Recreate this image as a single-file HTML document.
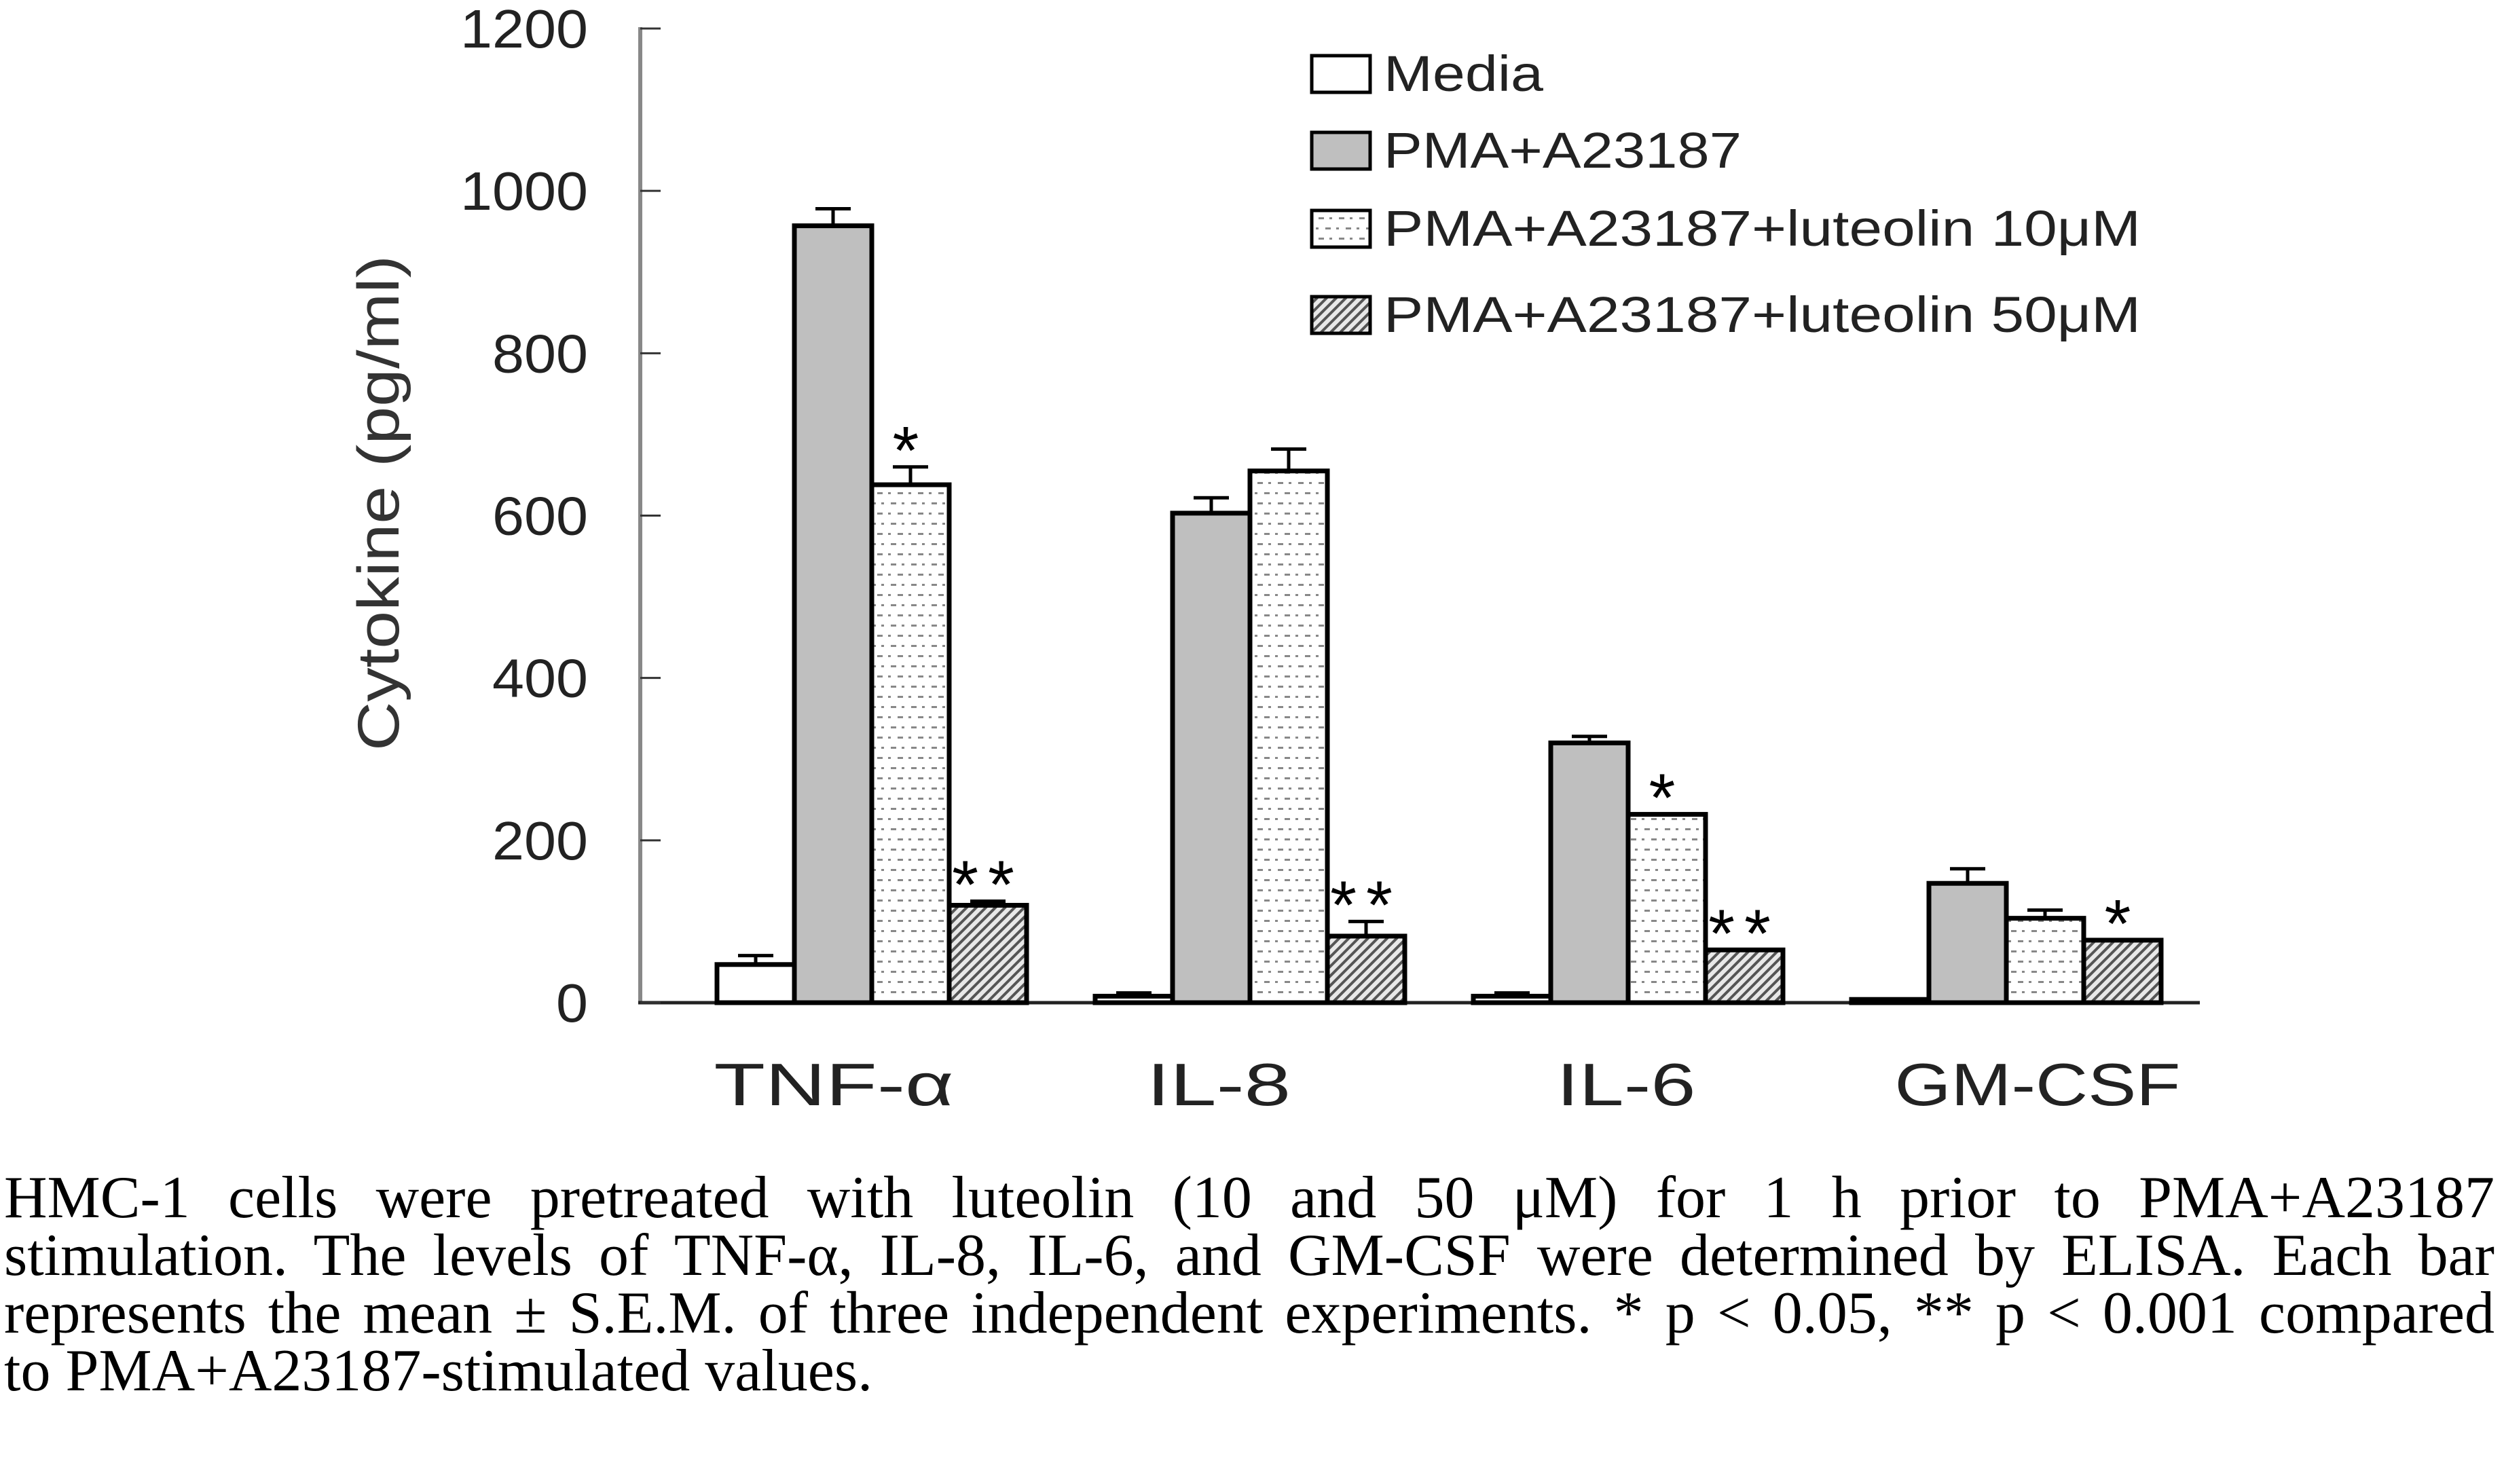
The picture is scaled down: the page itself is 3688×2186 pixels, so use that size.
<!DOCTYPE html>
<html><head><meta charset="utf-8">
<style>
html,body{margin:0;padding:0;background:#fff;}
#wrap{position:relative;width:3688px;height:2186px;overflow:hidden;}
#cap{position:absolute;left:6px;top:1722px;width:3668px;font-family:"Liberation Serif",serif;font-size:88px;line-height:85px;color:#000;}
#cap div{text-align:justify;text-align-last:justify;white-space:nowrap;height:85px;}
#cap div.last{text-align-last:left;}
</style></head>
<body>
<div id="wrap">
<svg id="chart" width="3688" height="1700" style="position:absolute;left:0;top:0">
<defs>
<pattern id="dots" width="30" height="30" patternUnits="userSpaceOnUse">
<rect width="30" height="30" fill="#fff"/>
<rect x="2" y="5" width="8" height="3" fill="#888"/><rect x="18" y="5" width="4" height="3" fill="#888"/>
<rect x="8" y="20" width="4" height="3" fill="#888"/><rect x="22" y="20" width="8" height="3" fill="#888"/>
</pattern>
<pattern id="hatch" width="10" height="10" patternUnits="userSpaceOnUse" patternTransform="rotate(45)">
<rect width="10" height="10" fill="#e8e8e8"/><rect width="4" height="10" fill="#555"/>
</pattern>
</defs>
<g id="axes"></g>
<g id="bars"></g>
<g id="legend"></g>
</svg>
<div id="cap">
<div>HMC-1 cells were pretreated with luteolin (10 and 50 μM) for 1 h prior to PMA+A23187</div>
<div>stimulation. The levels of TNF-α, IL-8, IL-6, and GM-CSF were determined by ELISA. Each bar</div>
<div>represents the mean ± S.E.M. of three independent experiments. * p &lt; 0.05, ** p &lt; 0.001 compared</div>
<div class="last">to PMA+A23187-stimulated values.</div>
</div>
</div>
<script>
const categories=["TNF-α","IL-8","IL-6","GM-CSF"];
const seriesNames=["Media","PMA+A23187","PMA+A23187+luteolin 10μM","PMA+A23187+luteolin 50μM"];
const mediaVals=[47,8,8,4];
const pmaVals=[957,603,320,147];
const lut10Vals=[638,655,232,104];
const lut50Vals=[120,82,65,77];
const mediaErr=[11,4,4,0];
const pmaErr=[21,19,8,18];
const lut10Err=[22,27,0,10];
const lut50Err=[5,18,0,0];
const lut10Sig=["*","","*",""];
const lut50Sig=["**","**","**","*"];
const yTicks=[0,200,400,600,800,1000,1200];

const NS="http://www.w3.org/2000/svg";
const X0=943,Y0=1477,Y1=42,VMAX=1200;
const y=v=>Y0-(v/VMAX)*(Y0-Y1);
const groupX=i=>1056+i*557;
const BW=114;
function mk(tag,attrs,parent){const e=document.createElementNS(NS,tag);for(const k in attrs)e.setAttribute(k,attrs[k]);parent.appendChild(e);return e;}
const axes=document.getElementById('axes'),bars=document.getElementById('bars'),leg=document.getElementById('legend');
const FONT='"Liberation Sans", sans-serif';

let a=mk('line',{x1:X0,y1:Y1-2,x2:X0,y2:Y0,stroke:'#888',"stroke-width":6},axes);

let b=mk('line',{x1:X0-3,y1:Y0,x2:3240,y2:Y0,stroke:'#222',"stroke-width":5},axes);

yTicks.forEach(v=>{
 let t=mk('line',{x1:X0,y1:y(v),x2:X0+30,y2:y(v),stroke:'#333',"stroke-width":3},axes);
 
 const s=String(v);
 let l=mk('text',{x:866,y:y(v)+28,"text-anchor":"end","font-family":FONT,"font-size":80,fill:'#222',textLength:47*s.length,lengthAdjust:'spacingAndGlyphs'},axes);
 l.textContent=s;
 
});
let yt=mk('text',{x:0,y:0,"text-anchor":"middle","font-family":FONT,"font-size":86,fill:'#333',textLength:730,lengthAdjust:'spacingAndGlyphs',transform:'translate(587,741) rotate(-90)'},axes);
yt.textContent='Cytokine (pg/ml)';


const series=[mediaVals,pmaVals,lut10Vals,lut50Vals];
const errs=[mediaErr,pmaErr,lut10Err,lut50Err];
const fills=['#fff','#bfbfbf','url(#dots)','url(#hatch)'];
const sigs=[null,null,lut10Sig,lut50Sig];
const xlCenters=[1228,1795,2395,3001];
const xlWidths=[353,212,205,421];
categories.forEach((c,i)=>{
 const gx=groupX(i);
 series.forEach((s,j)=>{
  const x=gx+j*BW, v=s[i], e=errs[j][i];
  if(e>0){
   let el=mk('line',{x1:x+BW/2,y1:y(v),x2:x+BW/2,y2:y(v+e),stroke:'#000',"stroke-width":5},bars);
   
   let ec=mk('line',{x1:x+BW/2-26,y1:y(v+e),x2:x+BW/2+26,y2:y(v+e),stroke:'#000',"stroke-width":5},bars);
   
  }
  let r=mk('rect',{x:x,y:y(v),width:BW,height:Y0-y(v),fill:fills[j],stroke:'#000',"stroke-width":7},bars);
  
  if(sigs[j]&&sigs[j][i]){
   let st=mk('text',{x:x+BW/2,y:y(v+e)+10,"text-anchor":"middle","font-family":FONT,"font-size":100,fill:'#000',"letter-spacing":"14"},bars);
   st.textContent=sigs[j][i];
   
  }
 });
 let xl=mk('text',{x:xlCenters[i],y:1628,"text-anchor":"middle","font-family":FONT,"font-size":88,fill:'#222',textLength:xlWidths[i],lengthAdjust:'spacingAndGlyphs'},axes);
 xl.textContent=c;
 
});
const legY=[134,247,362,489];
const legW=[235,527,1115,1115];
seriesNames.forEach((n,j)=>{
 let r=mk('rect',{x:1932,y:legY[j]-52,width:86,height:54,fill:fills[j],stroke:'#000',"stroke-width":5},leg);
 
 let t=mk('text',{x:2038,y:legY[j],"font-family":FONT,"font-size":74,fill:'#222',textLength:legW[j],lengthAdjust:'spacingAndGlyphs'},leg);
 t.textContent=n;
 
});
</script>
</body></html>
